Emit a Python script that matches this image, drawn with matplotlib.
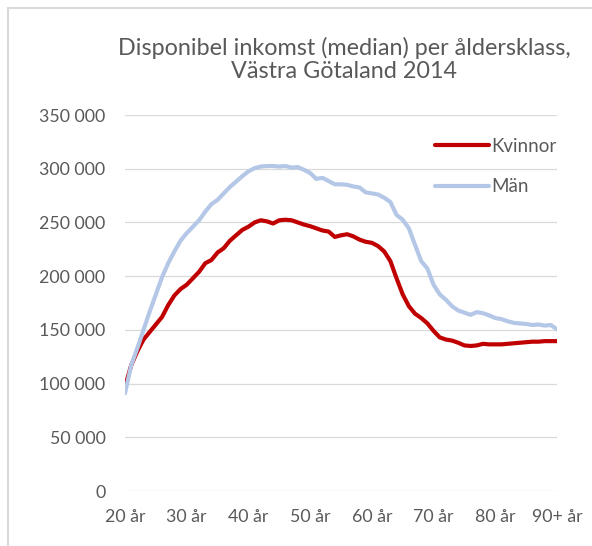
import matplotlib
matplotlib.use("Agg")
import matplotlib.pyplot as plt
from matplotlib.lines import Line2D
from matplotlib.ticker import FuncFormatter

ages = list(range(20, 91))
tick_ages = [20, 30, 40, 50, 60, 70, 80, 90]
tick_labels = ["20 år", "30 år", "40 år", "50 år", "60 år", "70 år", "80 år", "90+ år"]

kvinnor = [97000, 117000, 130000, 141000, 148000, 155000, 162000, 173000, 182000, 188000,
           192000, 198000, 204000, 212000, 215000, 222000, 226000, 233000, 238000, 243000,
           246000, 250000, 252000, 251000, 249000, 252000, 252500, 252000, 250000, 248000,
           246500, 244500, 242500, 241500, 236500, 238000, 239000, 237000, 234000, 232000,
           231000, 228000, 223000, 214000, 198000, 183000, 172000, 165000, 161000, 156000,
           149000, 143000, 141000, 140000, 138000, 135500, 135000, 135500, 137000, 136500,
           136500, 136500, 137000, 137500, 138000, 138500, 139000, 139000, 139500, 139500,
           139500]

man = [91000, 117000, 133000, 150000, 167000, 183000, 199000, 212000, 223000, 233000,
       240000, 246000, 252000, 260000, 267000, 271000, 277000, 283000, 288000, 293000,
       297500, 300500, 302000, 302500, 302500, 302000, 302500, 301000, 301500, 299000,
       296000, 290500, 291500, 288500, 285500, 285500, 285000, 283500, 282500, 278000,
       277000, 276000, 273000, 269000, 257000, 252500, 244500, 229000, 214000, 207000,
       192000, 183000, 178000, 172000, 168000, 166000, 164000, 166500, 165500, 163500,
       161000, 160000, 158000, 156500, 156000, 155500, 154500, 155000, 154000, 154500,
       150500]

title = "Disponibel inkomst (median) per åldersklass,\nVästra Götaland 2014"
series_names = ["Kvinnor", "Män"]

FONT = "Lato"
TXT = "#595959"
W, H = 592, 546

fig = plt.figure(figsize=(W / 100, H / 100), dpi=100)
fig.patch.set_facecolor("white")
ax = fig.add_axes([125 / W, 1 - 491 / H, (557 - 125) / W, (491 - 115) / H])

ax.plot(ages, kvinnor, color="#C00000", lw=3.0, solid_capstyle="round",
        solid_joinstyle="round", label=series_names[0], zorder=3)
ax.plot(ages, man, color="#B4C7E7", lw=3.0, solid_capstyle="round",
        solid_joinstyle="round", label=series_names[1], zorder=4)

ax.set_xlim(20, 90)
ax.set_ylim(0, 350000)
ax.set_yticks(range(0, 350001, 50000))
ax.yaxis.set_major_formatter(FuncFormatter(lambda v, p: f"{int(v):,}".replace(",", " ")))
ax.set_xticks(tick_ages)
ax.set_xticklabels(tick_labels)

ax.grid(axis="y", color="#D9D9D9", lw=0.9)
ax.set_axisbelow(True)
for s in ax.spines.values():
    s.set_visible(False)
ax.tick_params(axis="both", length=0, colors=TXT, labelsize=12.8)
ax.tick_params(axis="y", pad=14)
ax.tick_params(axis="x", pad=13)
for lab in ax.get_xticklabels() + ax.get_yticklabels():
    lab.set_fontfamily(FONT)

leg = ax.legend(loc="upper left", bbox_to_anchor=(418 / W, 1 - 121 / H),
                bbox_transform=fig.transFigure, frameon=False,
                handlelength=2.9, handletextpad=0.12, labelspacing=1.25,
                prop={"family": FONT, "size": 13.5})
for t in leg.get_texts():
    t.set_color(TXT)

fig.text(344 / W, 1 - 59 / H, title, ha="center", va="center", fontsize=16.8,
         family=FONT, color=TXT, linespacing=1.12)

# chart frame (left and top edges visible)
fig.add_artist(Line2D([8 / W, 8 / W], [0, 1 - 8 / H], transform=fig.transFigure,
                      color="#D9D9D9", lw=1.5))
fig.add_artist(Line2D([8 / W, 1], [1 - 8 / H, 1 - 8 / H], transform=fig.transFigure,
                      color="#D9D9D9", lw=1.5))

fig.savefig("out.png", dpi=100, facecolor="white")
